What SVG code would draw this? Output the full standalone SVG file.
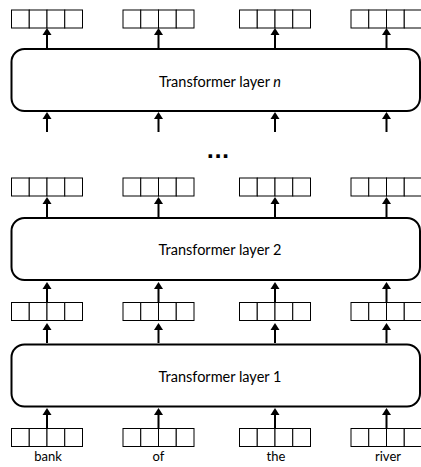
<svg xmlns="http://www.w3.org/2000/svg" width="421" height="467" viewBox="0 0 421 467">
<defs>
<style>
.layer{fill:#fff;stroke:#000;stroke-width:2}
.cell{fill:#fff;stroke:#000;stroke-width:1}
.arr{stroke:#000;stroke-width:2;fill:none}
.lbl{font-family:Lato,"Open Sans","DejaVu Sans",sans-serif;font-size:14.5px;fill:#000;text-anchor:middle}
.word{font-family:Lato,"Open Sans","DejaVu Sans",sans-serif;font-size:13px;fill:#000;text-anchor:middle}
</style>
<g id="vec">
<rect class="cell" x="0" y="0" width="17.75" height="18"/>
<rect class="cell" x="17.75" y="0" width="17.75" height="18"/>
<rect class="cell" x="35.5" y="0" width="17.75" height="18"/>
<rect class="cell" x="53.25" y="0" width="17.75" height="18"/>
</g>
<g id="arrowUp">
<line class="arr" x1="0" y1="0" x2="0" y2="-14"/>
<polygon points="0,-20 -4.5,-13 4.5,-13" fill="#000"/>
</g>
</defs>

<g id="layer-n">
<rect class="layer" x="11.5" y="49" width="408.5" height="62" rx="13"/>
<text class="lbl" x="220" y="87">Transformer layer <tspan font-style="italic">n</tspan></text>
</g>
<g id="layer-2">
<rect class="layer" x="11.5" y="218" width="408.5" height="62" rx="13"/>
<text class="lbl" x="220" y="255">Transformer layer 2</text>
</g>
<g id="layer-1">
<rect class="layer" x="11.5" y="344.5" width="408.5" height="62" rx="13"/>
<text class="lbl" x="220" y="381.5">Transformer layer 1</text>
</g>

<g id="dots">
<text x="218" y="158" font-family="'DejaVu Sans',sans-serif" font-weight="bold" font-size="20" text-anchor="middle">...</text>
</g>

<g id="vectors-top">
<use href="#vec" x="11.5" y="10"/>
<use href="#vec" x="123" y="10"/>
<use href="#vec" x="239.5" y="10"/>
<use href="#vec" x="351" y="10"/>
</g>
<g id="vectors-l2out">
<use href="#vec" x="11.5" y="178"/>
<use href="#vec" x="123" y="178"/>
<use href="#vec" x="239.5" y="178"/>
<use href="#vec" x="351" y="178"/>
</g>
<g id="vectors-l1out">
<use href="#vec" x="11.5" y="302.5"/>
<use href="#vec" x="123" y="302.5"/>
<use href="#vec" x="239.5" y="302.5"/>
<use href="#vec" x="351" y="302.5"/>
</g>
<g id="vectors-input">
<use href="#vec" x="11.5" y="428.5"/>
<use href="#vec" x="123" y="428.5"/>
<use href="#vec" x="239.5" y="428.5"/>
<use href="#vec" x="351" y="428.5"/>
<text class="word" x="48" y="461">bank</text>
<text class="word" x="158.5" y="461">of</text>
<text class="word" x="276" y="461">the</text>
<text class="word" x="388" y="461">river</text>
</g>

<g id="connectors">
<use href="#arrowUp" x="47" y="48"/>
<use href="#arrowUp" x="158.5" y="48"/>
<use href="#arrowUp" x="275" y="48"/>
<use href="#arrowUp" x="386.5" y="48"/>

<use href="#arrowUp" x="47" y="132"/>
<use href="#arrowUp" x="158.5" y="132"/>
<use href="#arrowUp" x="275" y="132"/>
<use href="#arrowUp" x="386.5" y="132"/>

<use href="#arrowUp" x="47" y="217"/>
<use href="#arrowUp" x="158.5" y="217"/>
<use href="#arrowUp" x="275" y="217"/>
<use href="#arrowUp" x="386.5" y="217"/>

<use href="#arrowUp" x="47" y="302"/>
<use href="#arrowUp" x="158.5" y="302"/>
<use href="#arrowUp" x="275" y="302"/>
<use href="#arrowUp" x="386.5" y="302"/>

<use href="#arrowUp" x="47" y="343"/>
<use href="#arrowUp" x="158.5" y="343"/>
<use href="#arrowUp" x="275" y="343"/>
<use href="#arrowUp" x="386.5" y="343"/>

<use href="#arrowUp" x="47" y="428"/>
<use href="#arrowUp" x="158.5" y="428"/>
<use href="#arrowUp" x="275" y="428"/>
<use href="#arrowUp" x="386.5" y="428"/>
</g>
</svg>
